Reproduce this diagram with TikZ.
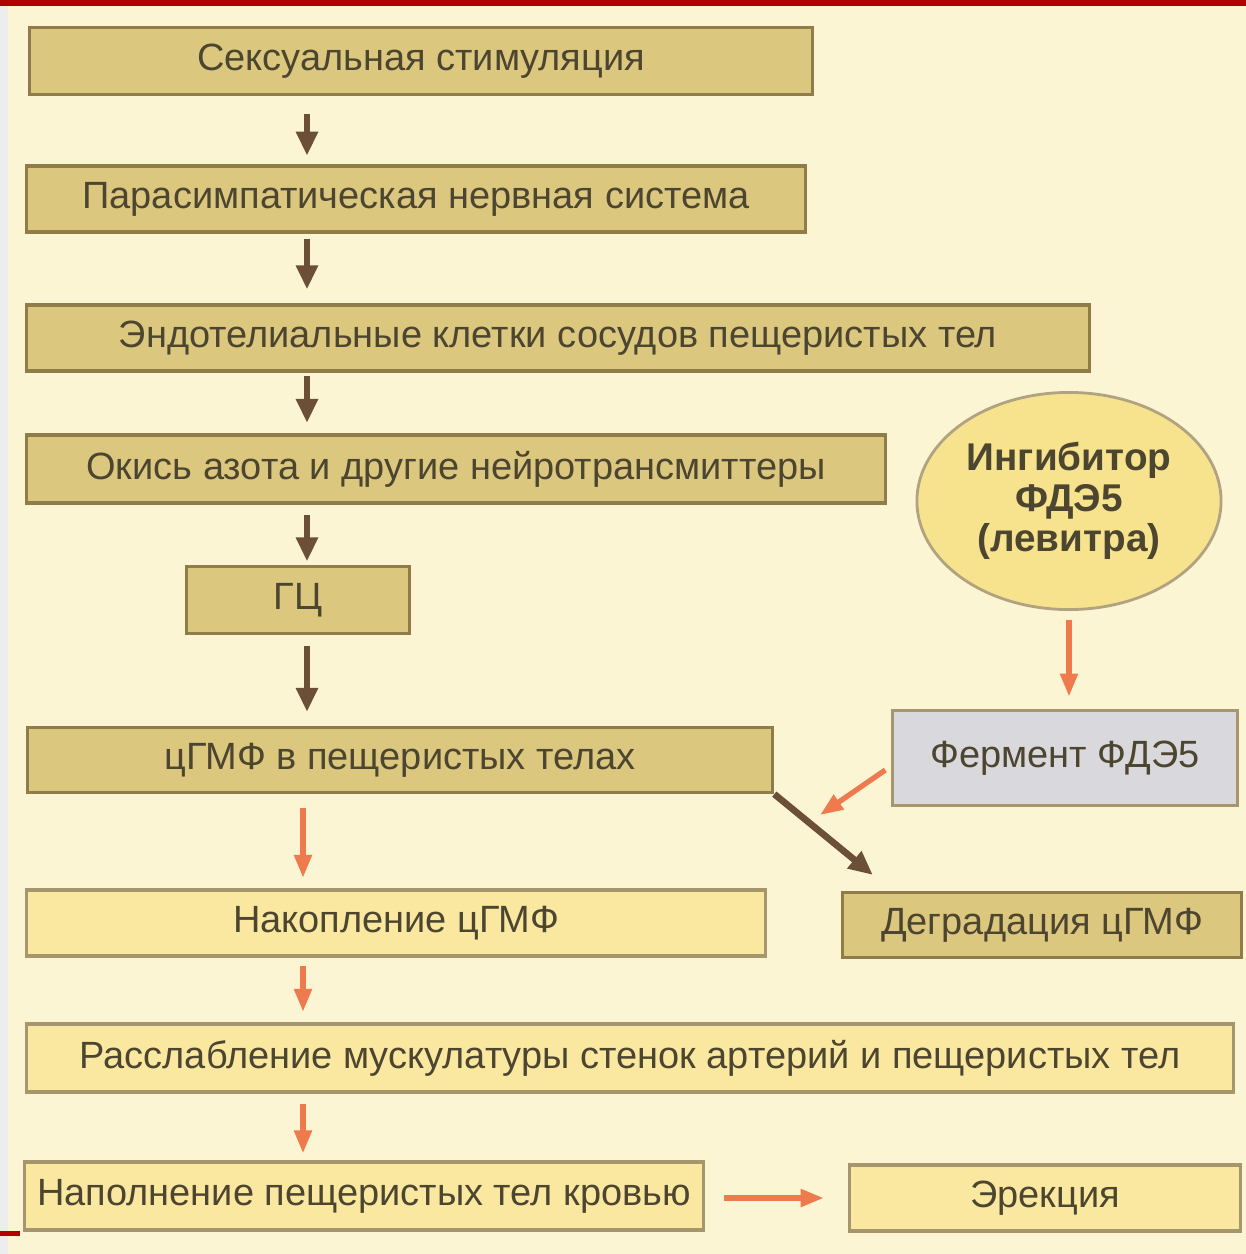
\documentclass[tikz,border=0pt]{standalone}
\usepackage{fontspec}
\setmainfont{Liberation Sans}
\usetikzlibrary{calc, arrows.meta, shapes.geometric}

\definecolor{bg}{HTML}{FBF5D4}
\definecolor{darkfill}{HTML}{DCC77F}
\definecolor{lightfill}{HTML}{FBE8A0}
\definecolor{ovalfill}{HTML}{F7E38E}
\definecolor{greyfill}{HTML}{D9D8DC}
\definecolor{boxline}{HTML}{907C48}
\definecolor{txt}{HTML}{4C4530}
\definecolor{brownarr}{HTML}{6C4F37}
\definecolor{orangearr}{HTML}{EE7A4E}
\definecolor{topred}{HTML}{B00000}

\begin{document}
\begin{tikzpicture}[x=0.01cm, y=-0.01cm, font=\fontsize{10.8}{12.8}\selectfont,
  darkbox/.style={draw=boxline, fill=darkfill, line width=0.9pt, text=txt, inner sep=0pt},
  lightbox/.style={draw=boxline!80, fill=lightfill, line width=0.9pt, text=txt, inner sep=0pt},
  brarrow/.style={brownarr, line width=1.9pt, -{Triangle[length=2.4mm, width=2.1mm]}},
  orarrow/.style={orangearr, line width=1.5pt, -{Triangle[length=2.3mm, width=1.7mm]}}]

  % фон
  \useasboundingbox (0,0) rectangle (1246,1254);
  \fill[bg] (0,0) rectangle (1246,1254);
  \fill[black!7] (0,0) rectangle (8,1254);
  \fill[topred] (0,0) rectangle (1246,6);
  \fill[topred] (0,1231) rectangle (20,1236);

  % левая колонка
  \node[darkbox, minimum width=7.82cm, minimum height=0.67cm] (stim) at (421,61) {Сексуальная стимуляция};
  \node[darkbox, minimum width=7.79cm, minimum height=0.66cm] (para) at (416,199) {Парасимпатическая нервная система};
  \node[darkbox, minimum width=10.63cm, minimum height=0.66cm] (endo) at (558,338) {Эндотелиальные клетки сосудов пещеристых тел};
  \node[darkbox, minimum width=8.59cm, minimum height=0.68cm] (nox) at (456,469) {Окись азота и другие нейротрансмиттеры};
  \node[darkbox, minimum width=2.23cm, minimum height=0.67cm] (gc) at (298,600) {ГЦ};
  \node[darkbox, minimum width=7.45cm, minimum height=0.65cm] (cgmp) at (400,760) {цГМФ в пещеристых телах};
  \node[lightbox, minimum width=7.39cm, minimum height=0.66cm] (accum) at (396,923) {Накопление цГМФ};
  \node[lightbox, minimum width=12.06cm, minimum height=0.68cm] (relax) at (630,1058) {Расслабление мускулатуры стенок артерий и пещеристых тел};
  \node[lightbox, minimum width=6.78cm, minimum height=0.68cm] (blood) at (364,1196) {Наполнение пещеристых тел кровью};

  % правая колонка
  \node[ellipse, draw=boxline!70, fill=ovalfill, line width=0.8pt, text=txt, inner sep=0pt,
        minimum width=3.04cm, minimum height=2.17cm, align=center,
        font=\fontsize{11}{11.6}\selectfont\bfseries] (inh) at (1069,501) {Ингибитор\\ФДЭ5\\(левитра)};
  \node[draw=boxline!80, fill=greyfill, line width=0.9pt, text=txt, inner sep=0pt,
        minimum width=3.44cm, minimum height=0.95cm] (pde) at (1065,758) {Фермент ФДЭ5};
  \node[darkbox, minimum width=3.99cm, minimum height=0.65cm] (degr) at (1042,925) {Деградация цГМФ};
  \node[lightbox, minimum width=3.9cm, minimum height=0.66cm] (erec) at (1045,1198) {Эрекция};

  \coordinate (ax) at (307,0);
  \coordinate (ox) at (303,0);

  % основной путь
  \draw[brarrow, shorten <=5pt, shorten >=2.5pt] (stim.south -| ax) -- (para.north -| ax);
  \draw[brarrow, shorten <=1.5pt, shorten >=4pt] (para.south -| ax) -- (endo.north -| ax);
  \draw[brarrow, shorten <=1pt, shorten >=3pt] (endo.south -| ax) -- (nox.north -| ax);
  \draw[brarrow, shorten <=3pt, shorten >=1pt] (nox.south -| ax) -- (gc.north -| ax);
  \draw[brarrow, shorten <=3pt, shorten >=4pt] (gc.south -| ax) -- (cgmp.north -| ax);
  \draw[orarrow, shorten <=4pt, shorten >=3pt] (cgmp.south -| ox) -- (accum.north -| ox);
  \draw[orarrow, shorten <=2.5pt, shorten >=3pt] (accum.south -| ox) -- (relax.north -| ox);
  \draw[orarrow, shorten <=3pt, shorten >=2pt] (relax.south -| ox) -- (blood.north -| ox);
  \draw[orarrow, shorten <=5.5pt, shorten >=7pt] (blood.east |- erec.west) -- (erec.west);

  % ингибитор и распад
  \draw[orarrow, shorten <=2.5pt, shorten >=3.5pt] (inh.south) -- (inh.south |- pde.north);
  \draw[brarrow] (cgmp.south east) -- ($(degr.north west)+(32,-16)$);
  \draw[orarrow] ($(pde.west)+(-6,12)$) -- (820,815);
\end{tikzpicture}
\end{document}
